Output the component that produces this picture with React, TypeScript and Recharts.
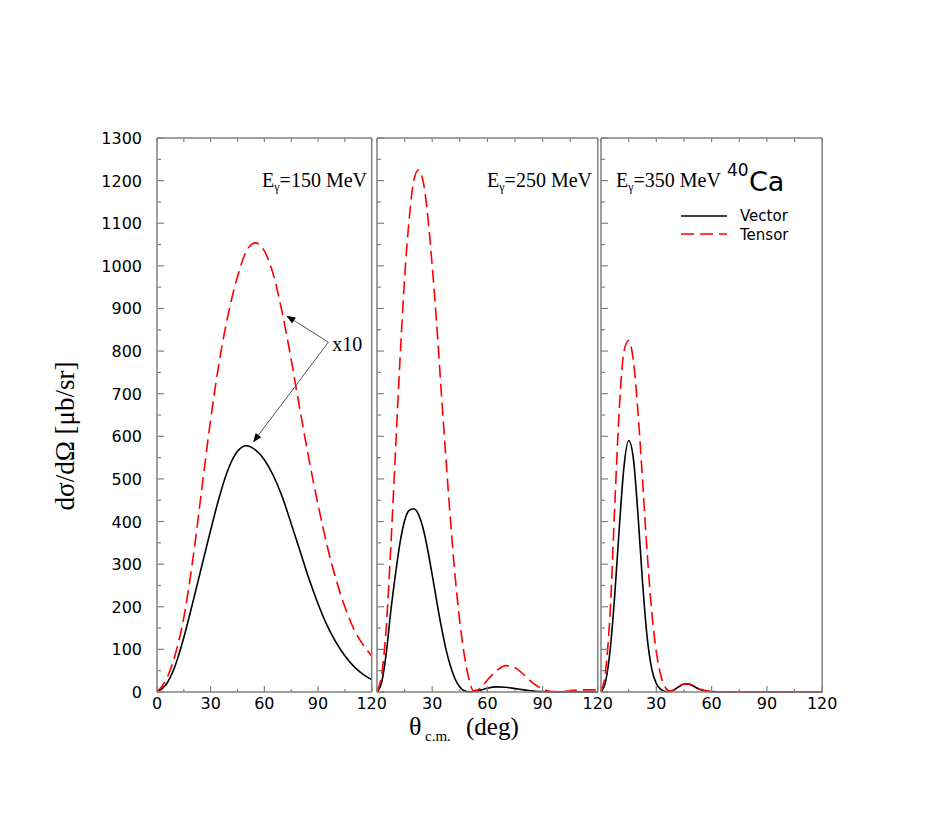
import React from 'react';
import { LineChart, Line, XAxis, YAxis, ReferenceLine, ReferenceDot } from 'recharts';

// ---------- data ----------
const xTicks = [0, 15, 30, 45, 60, 75, 90, 105, 120];
const xLabelTicks = [0, 30, 60, 90, 120];
const yTicks = [0, 50, 100, 150, 200, 250, 300, 350, 400, 450, 500, 550, 600, 650, 700, 750, 800, 850, 900, 950, 1000, 1050, 1100, 1150, 1200, 1250, 1300];
const yLabelTicks = [0, 100, 200, 300, 400, 500, 600, 700, 800, 900, 1000, 1100, 1200, 1300];

const theta150 = [0, 5, 10, 15, 20, 25, 30, 35, 40, 45, 50, 55, 60, 65, 70, 75, 80, 85, 90, 95, 100, 105, 110, 115, 120];
const vector150 = [0, 17, 60, 128, 210, 295, 380, 460, 525, 565, 578, 568, 545, 508, 458, 395, 330, 265, 207, 157, 117, 85, 60, 42, 29];
const tensor150 = [0, 28, 85, 175, 310, 475, 640, 780, 890, 975, 1035, 1054, 1035, 980, 890, 780, 660, 545, 440, 345, 265, 200, 148, 112, 85];

const theta250 = [0, 2.5, 5, 7.5, 10, 12.5, 15, 17.5, 20, 22.5, 25, 27.5, 30, 32.5, 35, 37.5, 40, 42.5, 45, 47.5, 50, 52.5, 55, 57.5, 60, 65, 70, 75, 80, 85, 90, 95, 100, 105, 110, 115, 120];
const vector250 = [0, 22, 90, 190, 275, 350, 402, 426, 430, 417, 385, 335, 275, 212, 152, 100, 60, 30, 12, 3, 0.5, 1, 3, 6, 9, 12, 11, 8, 5, 2, 1, 0, 0, 0, 0, 0, 0];
const tensor250 = [0, 40, 150, 340, 560, 780, 970, 1110, 1200, 1225, 1200, 1120, 1000, 860, 700, 545, 400, 270, 165, 85, 30, 3, 5, 15, 28, 50, 62, 57, 40, 20, 7, 1, 1, 3, 5, 5, 5];

const theta350 = [0, 2.5, 5, 7.5, 10, 12.5, 15, 17.5, 20, 22.5, 25, 27.5, 30, 32.5, 35, 37.5, 40, 42.5, 45, 47.5, 50, 52.5, 55, 57.5, 60, 65, 70, 75, 80, 85, 90, 95, 100, 105, 110, 115, 120];
const vector350 = [0, 25, 100, 230, 390, 530, 590, 550, 420, 260, 130, 55, 20, 6, 1, 1, 6, 13, 18, 18, 14, 8, 4, 2, 1, 0, 0, 0, 0, 0, 0, 0, 0, 0, 0, 0, 0];
const tensor350 = [0, 50, 190, 440, 670, 800, 825, 780, 660, 500, 330, 190, 95, 38, 10, 2, 6, 14, 19, 19, 15, 9, 5, 2, 1, 0.5, 0.3, 0.2, 0.1, 0, 0, 0, 0, 0, 0, 0, 0];

const energies = ['150', '250', '350'];
const seriesNames = ['Vector', 'Tensor'];

// annotation (data coordinates of panel 1)
const arrowStart = { x: 95.8, y: 821 };
const arrowTipTensor = { x: 72.3, y: 883 };
const arrowTipVector = { x: 53.7, y: 586 };
const x10Label = { x: 98, y: 800, text: 'x10' };

const makeRows = (t: number[], v: number[], s: number[]) => t.map((th, i) => ({ theta: th, vector: v[i], tensor: s[i] }));
const rows150 = makeRows(theta150, vector150, tensor150);
const rows250 = makeRows(theta250, vector250, tensor250);
const rows350 = makeRows(theta350, vector350, tensor350);

// ---------- style ----------
const GRAY = '#808080';
const RED = '#ff0000';
const SANS = '"DejaVu Sans", sans-serif';
const SERIF = '"Liberation Serif", "Times New Roman", serif';
const PLOT_TOP = 137.5;
const PLOT_H = 554;
const AX = 1;
const DASH = '13 6';

const tickLen = (major: boolean) => (major ? 7 : 4);

const bottomTick = (showZero: boolean) => (p: any) => {
  const { x, y, payload } = p;
  const v = payload.value;
  const major = xLabelTicks.includes(v);
  const showLabel = major && (showZero || v !== 0);
  return (
    <g>
      <line x1={x} y1={y} x2={x} y2={y - tickLen(major) + 1} stroke={GRAY} strokeWidth={1.2} />
      {showLabel && (
        <text x={x} y={y + 17.5} textAnchor="middle" fontFamily={SANS} fontSize={16} fill="#000">
          {v}
        </text>
      )}
    </g>
  );
};

const topTick = (p: any) => {
  const { x, y } = p;
  return <line x1={x} y1={y} x2={x} y2={y + 4} stroke={GRAY} strokeWidth={1.2} />;
};

const leftTick = (showLabels: boolean) => (p: any) => {
  const { x, y, payload } = p;
  const v = payload.value;
  const major = yLabelTicks.includes(v);
  return (
    <g>
      <line x1={x} y1={y} x2={x + tickLen(major)} y2={y} stroke={GRAY} strokeWidth={1.2} />
      {showLabels && major && (
        <text x={x - 15} y={y + 6} textAnchor="end" fontFamily={SANS} fontSize={16} fill="#000">
          {v}
        </text>
      )}
    </g>
  );
};

const rightTick = (p: any) => {
  const { x, y, payload } = p;
  const major = yLabelTicks.includes(payload.value);
  return <line x1={x} y1={y} x2={x - tickLen(major)} y2={y} stroke={GRAY} strokeWidth={1.2} />;
};

const arrowShape = (p: any) => {
  const { x1, y1, x2, y2 } = p;
  const ang = Math.atan2(y2 - y1, x2 - x1);
  const L = 9;
  const hw = 3.5;
  const bx = x2 - L * Math.cos(ang);
  const by = y2 - L * Math.sin(ang);
  const px = -Math.sin(ang) * hw;
  const py = Math.cos(ang) * hw;
  return (
    <g>
      <line x1={x1} y1={y1} x2={bx} y2={by} stroke="#555" strokeWidth={1} />
      <polygon points={`${x2},${y2} ${bx + px},${by + py} ${bx - px},${by - py}`} fill="#000" />
    </g>
  );
};

type PanelProps = {
  rows: any[];
  plotLeft: number;
  plotW: number;
  showY: boolean;
  showX0: boolean;
  children?: React.ReactNode;
};

function Panel({ rows, plotLeft, plotW, showY, showX0, children }: PanelProps) {
  const mL = showY ? 80 : 20;
  const mR = 22;
  const mT = 10;
  const mB = 30;
  const width = mL + AX + plotW + AX + mR;
  const height = mT + AX + PLOT_H + AX + mB;
  const axisLine = { stroke: GRAY, strokeWidth: 1.5 };
  return (
    <div style={{ position: 'absolute', left: plotLeft - mL - AX, top: PLOT_TOP - mT - AX, width, height }}>
      <LineChart width={width} height={height} data={rows} margin={{ top: mT, right: mR, bottom: mB, left: mL }}>
        <XAxis xAxisId="b" dataKey="theta" type="number" domain={[0, 120]} ticks={xTicks} interval={0} height={AX}
          tickSize={0} tickMargin={0} tickLine={false} axisLine={axisLine} tick={bottomTick(showX0)} />
        <XAxis xAxisId="t" orientation="top" dataKey="theta" type="number" domain={[0, 120]} ticks={xTicks} interval={0}
          height={AX} tickSize={0} tickMargin={0} tickLine={false} axisLine={axisLine} tick={topTick} />
        <YAxis yAxisId="l" type="number" domain={[0, 1300]} ticks={yTicks} interval={0} width={AX}
          tickSize={0} tickMargin={0} tickLine={false} axisLine={axisLine} tick={leftTick(showY)} />
        <YAxis yAxisId="r" orientation="right" type="number" domain={[0, 1300]} ticks={yTicks} interval={0} width={AX}
          tickSize={0} tickMargin={0} tickLine={false} axisLine={axisLine} tick={rightTick} />
        <Line xAxisId="b" yAxisId="l" type="monotone" dataKey="vector" stroke="#000" strokeWidth={1.6} dot={false}
          isAnimationActive={false} />
        <Line xAxisId="b" yAxisId="l" type="monotone" dataKey="tensor" stroke={RED} strokeWidth={1.6} strokeDasharray={DASH}
          dot={false} isAnimationActive={false} />
        {children}
      </LineChart>
    </div>
  );
}

function EnergyLabel({ x, y, e, anchor }: { x: number; y: number; e: string; anchor: 'start' | 'end' }) {
  return (
    <text x={x} y={y} textAnchor={anchor} fontFamily={SERIF} fontSize={20} fill="#000">
      E
      <tspan fontSize={12} dy={4}>γ</tspan>
      <tspan dy={-4}>={e} MeV</tspan>
    </text>
  );
}

export default function App() {
  return (
    <div style={{ position: 'absolute', left: 0, top: 0, width: 927, height: 830, background: '#fff' }}>
      <Panel rows={rows150} plotLeft={157.3} plotW={214.7} showY={true} showX0={true}>
        <ReferenceLine xAxisId="b" yAxisId="l" segment={[arrowStart, arrowTipTensor]} shape={arrowShape} />
        <ReferenceLine xAxisId="b" yAxisId="l" segment={[arrowStart, arrowTipVector]} shape={arrowShape} />
        <ReferenceDot xAxisId="b" yAxisId="l" x={x10Label.x} y={x10Label.y} r={0}
          shape={(p: any) => (
            <text x={p.cx} y={p.cy} fontFamily={SERIF} fontSize={20} fill="#000">{x10Label.text}</text>
          )} />
      </Panel>
      <Panel rows={rows250} plotLeft={376.7} plotW={220.8} showY={false} showX0={false} />
      <Panel rows={rows350} plotLeft={601.3} plotW={221.2} showY={false} showX0={false} />

      <svg width={927} height={830} style={{ position: 'absolute', left: 0, top: 0, pointerEvents: 'none' }}>
        <text transform="translate(74,436) rotate(-90)" textAnchor="middle" fontFamily={SERIF} fontSize={27} fill="#000">
          dσ/dΩ [μb/sr]
        </text>
        <text x={409} y={735} fontFamily={SERIF} fontSize={26} fill="#000">θ</text>
        <text x={425} y={741} fontFamily={SERIF} fontSize={15} fill="#000">c.m.</text>
        <text x={466} y={735} fontFamily={SERIF} fontSize={25} fill="#000">(deg)</text>

        <EnergyLabel x={367} y={187} e={energies[0]} anchor="end" />
        <EnergyLabel x={592} y={187} e={energies[1]} anchor="end" />
        <EnergyLabel x={616} y={187} e={energies[2]} anchor="start" />

        <text x={727} y={176} fontFamily={SANS} fontSize={17} fill="#000">40</text>
        <text x={749} y={191} fontFamily={SANS} fontSize={27} fill="#000">Ca</text>

        <line x1={681} y1={216} x2={727} y2={216} stroke="#000" strokeWidth={1.6} />
        <text x={740} y={221} fontFamily={SANS} fontSize={15} fill="#000">{seriesNames[0]}</text>
        <line x1={681} y1={234} x2={727} y2={234} stroke={RED} strokeWidth={1.6} strokeDasharray={DASH} />
        <text x={740} y={239.5} fontFamily={SANS} fontSize={15} fill="#000">{seriesNames[1]}</text>
      </svg>
    </div>
  );
}
